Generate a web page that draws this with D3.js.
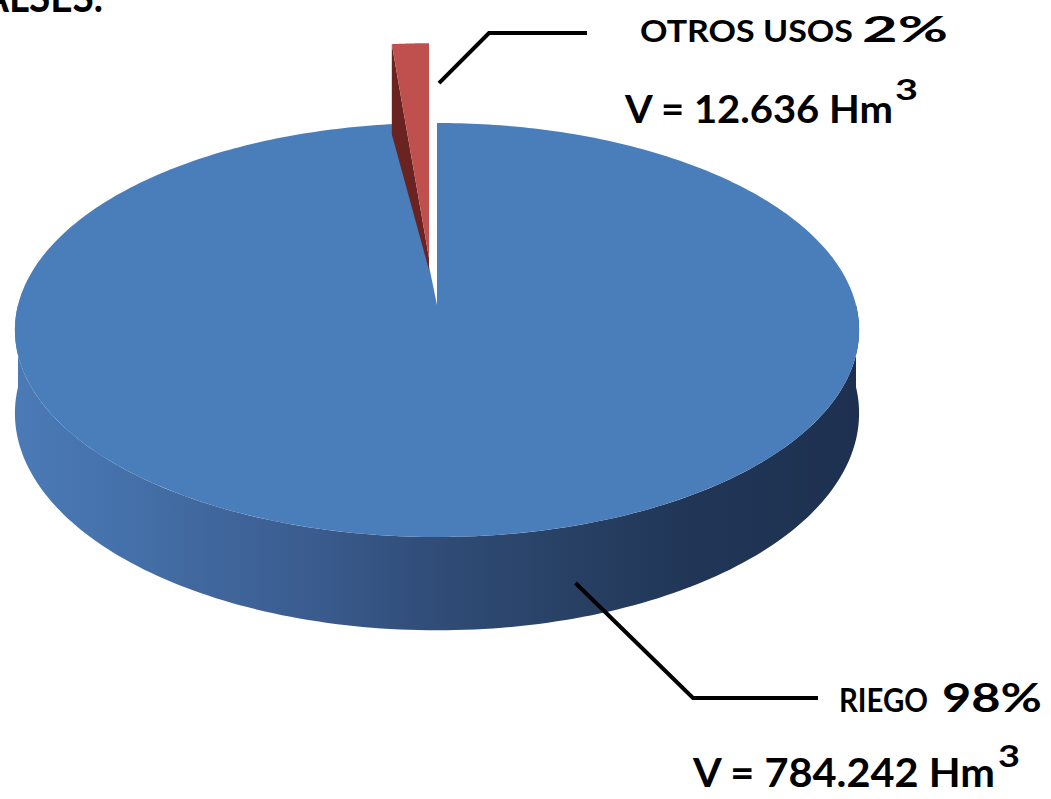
<!DOCTYPE html>
<html>
<head>
<meta charset="utf-8">
<script src="https://cdn.jsdelivr.net/npm/d3@7"></script>
<style>
  html, body { margin: 0; padding: 0; background: #fff; overflow: hidden; }
  text { font-family: Lato, "Open Sans", sans-serif; font-weight: 700; fill: #000; }
</style>
</head>
<body>
<svg id="chart" width="1051" height="799"></svg>
<script>
// data
const categories = ['RIEGO', 'OTROS USOS'];
const volumes = [784.242, 12.636];
const pctLabels = ['98%', '2%'];
const volLabels = ['V = 784.242 Hm', 'V = 12.636 Hm'];
const unitExp = '3';
const titleTail = 'ALSES.';

const width = 1051;
const height = 799;

// 3d pie geometry (perspective tilt)
const cx = 437, cy = 305, rx = 419, ry = 204, k = 0.1208, depth = 82;
const explode = { dx: -8, lift: 47, stretch: 1.18 };

const svg = d3.select('#chart');

const project = (a, h) => {
  const u = Math.sin(a), v = Math.cos(a), w = 1 + k * v;
  return [cx + rx * u / w, cy - ry * v / w + h * depth / w];
};
const center = (h) => [cx, cy + h * depth];

const arcPoints = (a0, a1, h, n = 160) =>
  d3.range(n + 1).map(i => project(a0 + (a1 - a0) * i / n, h));

const line = d3.line();

const slices = d3.pie().sort(null).startAngle(0).endAngle(2 * Math.PI)(volumes);
const riego = slices[0];
const otros = slices[1];

// side gradient
const grad = svg.append('defs').append('linearGradient')
  .attr('id', 'sideGrad')
  .attr('gradientUnits', 'userSpaceOnUse')
  .attr('x1', cx - rx - 3).attr('x2', cx + rx + 3)
  .attr('y1', 0).attr('y2', 0);
[[0, '#4b7ab6'], [0.1, '#4673ad'], [0.34, '#3b5d90'], [0.5, '#304c77'],
 [0.65, '#284165'], [0.8, '#213657'], [1, '#1d3050']]
  .forEach(s => grad.append('stop').attr('offset', s[0]).attr('stop-color', s[1]));

// 1. blue side (front half)
const sideTop = arcPoints(Math.PI / 2, 3 * Math.PI / 2, 0);
const sideBot = arcPoints(Math.PI / 2, 3 * Math.PI / 2, 1).reverse();
svg.append('path')
  .attr('d', line(sideTop.concat(sideBot)) + 'Z')
  .attr('fill', 'url(#sideGrad)');

// 2. blue top face
svg.append('path')
  .attr('d', line([center(0)].concat(arcPoints(riego.startAngle, riego.endAngle, 0, 400))) + 'Z')
  .attr('fill', '#4a7ebb');

// 3. exploded red slice
const redPt = p => [p[0] + explode.dx, cy - explode.lift - (cy - p[1]) * explode.stretch];
const apex = redPt(center(0));
const rimL = redPt(project(otros.startAngle, 0));

svg.append('path')
  .attr('d', line([rimL, apex, [apex[0], apex[1] + 12], [rimL[0], rimL[1] + depth + 8]]) + 'Z')
  .attr('fill', '#6a2321');

svg.append('path')
  .attr('d', line([apex].concat(arcPoints(otros.startAngle, otros.endAngle, 0, 20).map(redPt))) + 'Z')
  .attr('fill', '#c0504d');

// 4. leader lines
const riegoStart = project(163 * Math.PI / 180, 0.62);
const otrosStart = [apex[0] + 10, rimL[1] + 39];
svg.append('path')
  .attr('d', line([riegoStart, [693, 698], [818, 698]]))
  .attr('fill', 'none').attr('stroke', '#000').attr('stroke-width', 4);
svg.append('path')
  .attr('d', line([otrosStart, [489, 33], [587, 33]]))
  .attr('fill', 'none').attr('stroke', '#000').attr('stroke-width', 4);

// 5. labels
const label = (str, x, y, size, len) =>
  svg.append('text')
    .attr('x', x).attr('y', y)
    .attr('font-size', size)
    .attr('textLength', len)
    .attr('lengthAdjust', 'spacingAndGlyphs')
    .text(str);

label(titleTail, -18, 12, 42, 121);

label(categories[1], 640, 42, 31, 213);
label(pctLabels[1], 862, 42, 37, 86);
label(volLabels[1], 625, 123, 39, 268);
label(unitExp, 895, 100, 28, 23);

label(categories[0], 839, 712, 33, 89);
label(pctLabels[0], 942, 712, 41, 100);
label(volLabels[0], 693, 787, 40, 302);
label(unitExp, 998, 767, 30, 22);
</script>
</body>
</html>
